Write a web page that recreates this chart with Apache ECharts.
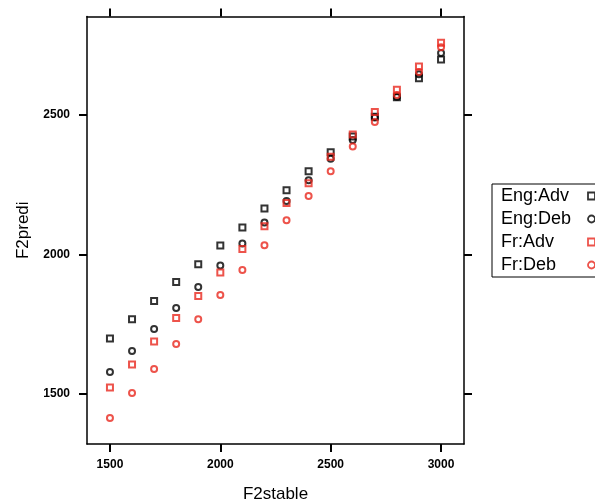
<!DOCTYPE html>
<html>
<head>
<meta charset="utf-8">
<script src="https://cdn.jsdelivr.net/npm/echarts@6/dist/echarts.min.js"></script>
<style>html,body{margin:0;padding:0;background:#fff;}#c{width:595px;height:501px;}</style>
</head>
<body>
<div id="c"></div>
<script>
var f2stable = [1500,1600,1700,1800,1900,2000,2100,2200,2300,2400,2500,2600,2700,2800,2900,3000];
var engAdv = [1699,1768,1833,1901,1965,2032,2096,2164,2230,2298,2366,2422,2493,2563,2631,2698];
var engDeb = [1579,1654,1733,1808,1883,1960,2039,2114,2191,2266,2343,2410,2490,2565,2645,2721];
var frAdv  = [1523,1606,1688,1772,1851,1935,2019,2101,2184,2255,2350,2429,2510,2590,2673,2758];
var frDeb  = [1414,1504,1590,1679,1768,1855,1944,2033,2122,2209,2298,2386,2474,2571,2653,2742];
var xTicks = [1500,2000,2500,3000];
var yTicks = [1500,2000,2500];
var seriesNames = ['Eng:Adv','Eng:Deb','Fr:Adv','Fr:Deb'];

var RED = '#e8281e';
var FONT = '"Liberation Sans", Arial, Helvetica, sans-serif';
function pairs(ys){ return f2stable.map(function(x,i){ return [x, ys[i]]; }); }
function ser(name, ys, sym, col){
  return {
    name: name, type: 'scatter', data: pairs(ys), symbol: sym, symbolSize: 6,
    itemStyle: {color: 'transparent', borderColor: col, borderWidth: 2},
    emphasis: {disabled: true}, silent: true
  };
}
function plain(v){ return String(v); }
var axisLine = {show: true, onZero: false, lineStyle: {color: '#000', width: 1.5}};
var tickStyle = {lineStyle: {color: '#000', width: 2}};
var chart = echarts.init(document.getElementById('c'), null, {renderer: 'canvas'});
chart.setOption({
  animation: false,
  backgroundColor: '#fff',
  grid: {left: 87, top: 16.5, right: 131, bottom: 57, containLabel: false, outerBoundsMode: 'none'},
  xAxis: [{
    type: 'value', position: 'bottom', min: 1396, max: 3104,
    axisLine: axisLine,
    axisTick: Object.assign({show: true, inside: false, length: 8, customValues: xTicks}, tickStyle),
    axisLabel: {show: true, customValues: xTicks, formatter: plain, margin: 15, color: '#000', fontFamily: FONT, fontSize: 12, fontWeight: 'bold'},
    splitLine: {show: false},
    name: 'F2stable', nameLocation: 'middle', nameGap: 42,
    nameTextStyle: {color: '#000', fontFamily: FONT, fontSize: 17}
  }, {
    type: 'value', position: 'top', min: 1396, max: 3104,
    axisLine: axisLine,
    axisTick: Object.assign({show: true, inside: false, length: 8, customValues: xTicks}, tickStyle),
    axisLabel: {show: false, customValues: xTicks},
    splitLine: {show: false}
  }],
  yAxis: [{
    type: 'value', position: 'left', min: 1321, max: 2852,
    axisLine: axisLine,
    axisTick: Object.assign({show: true, inside: false, length: 8, customValues: yTicks}, tickStyle),
    axisLabel: {show: true, customValues: yTicks, formatter: plain, margin: 17, color: '#000', fontFamily: FONT, fontSize: 12, fontWeight: 'bold'},
    splitLine: {show: false},
    name: 'F2predi', nameLocation: 'middle', nameGap: 55, nameRotate: 90,
    nameTextStyle: {color: '#000', fontFamily: FONT, fontSize: 17}
  }, {
    type: 'value', position: 'right', min: 1321, max: 2852,
    axisLine: axisLine,
    axisTick: Object.assign({show: true, inside: false, length: 8, customValues: yTicks}, tickStyle),
    axisLabel: {show: false, customValues: yTicks},
    splitLine: {show: false}
  }],
  legend: {
    orient: 'vertical', left: 492, top: 184, align: 'right',
    padding: [3, 8, 3, 9], itemGap: 5, itemWidth: 7, itemHeight: 7,
    borderColor: '#000', borderWidth: 1, backgroundColor: '#fff',
    formatter: '{a|{name}}',
    textStyle: {color: '#000', fontFamily: FONT, fontSize: 18, lineHeight: 18,
      rich: {a: {width: 82, align: 'left', color: '#000', fontFamily: FONT, fontSize: 18, lineHeight: 18}}},
    selectedMode: false,
    data: [
      {name: 'Eng:Adv', icon: 'rect', itemStyle: {color: 'transparent', borderColor: '#000', borderWidth: 1.8}},
      {name: 'Eng:Deb', icon: 'circle', itemStyle: {color: 'transparent', borderColor: '#000', borderWidth: 1.8}},
      {name: 'Fr:Adv', icon: 'rect', itemStyle: {color: 'transparent', borderColor: RED, borderWidth: 1.8}},
      {name: 'Fr:Deb', icon: 'circle', itemStyle: {color: 'transparent', borderColor: RED, borderWidth: 1.8}}
    ]
  },
  series: [
    ser(seriesNames[0], engAdv, 'rect', '#000'),
    ser(seriesNames[1], engDeb, 'circle', '#000'),
    ser(seriesNames[2], frAdv, 'rect', RED),
    ser(seriesNames[3], frDeb, 'circle', RED)
  ]
});
</script>
</body>
</html>
